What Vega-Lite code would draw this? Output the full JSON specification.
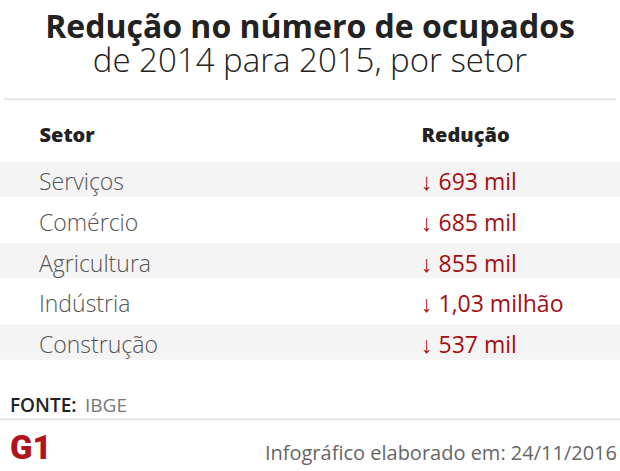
{
  "$schema": "https://vega.github.io/schema/vega-lite/v6.json",
  "width": 620,
  "height": 471,
  "autosize": {"type": "fit", "contains": "padding"},
  "padding": 0,
  "background": "#ffffff",
  "config": {"view": {"stroke": null}, "axis": {"grid": false}},
  "title": {
    "text": "Redução no número de ocupados",
    "subtitle": "de 2014 para 2015, por setor",
    "anchor": "middle",
    "frame": "group",
    "font": "Open Sans",
    "fontSize": 32,
    "fontWeight": 700,
    "color": "#222222",
    "subtitleFont": "Open Sans",
    "subtitleFontSize": 33,
    "subtitleFontWeight": 300,
    "subtitleColor": "#222222",
    "subtitlePadding": 1,
    "offset": -80
  },
  "datasets": {
    "setores": [
      {"linha": 1, "setor": "Serviços", "reducao": "↓ 693 mil", "reducao_mil": 693},
      {"linha": 2, "setor": "Comércio", "reducao": "↓ 685 mil", "reducao_mil": 685},
      {"linha": 3, "setor": "Agricultura", "reducao": "↓ 855 mil", "reducao_mil": 855},
      {"linha": 4, "setor": "Indústria", "reducao": "↓ 1,03 milhão", "reducao_mil": 1030},
      {"linha": 5, "setor": "Construção", "reducao": "↓ 537 mil", "reducao_mil": 537}
    ],
    "rodape": [
      {"fonte_rotulo": "FONTE:", "fonte": "IBGE", "logo": "G1", "credito": "Infográfico elaborado em: 24/11/2016"}
    ],
    "divisoria": [{"divisoria": "linha"}]
  },
  "layer": [
    {
      "data": {"name": "setores"},
      "layer": [
        {
          "transform": [{"filter": "datum.linha % 2 == 1"}],
          "mark": {"type": "tick", "orient": "horizontal", "thickness": 35, "size": 620, "color": "#f4f4f4", "opacity": 1},
          "encoding": {
            "y": {"field": "linha", "type": "quantitative", "axis": null,
                  "scale": {"domain": [-3.3975, 8.1608], "reverse": true, "nice": false, "zero": false}}
          }
        },
        {
          "mark": {"type": "text", "align": "left", "baseline": "alphabetic", "dy": 11,
                   "font": "Open Sans", "fontSize": 23, "fontWeight": 300, "color": "#555555"},
          "encoding": {
            "x": {"datum": "Setor", "type": "nominal",
                  "scale": {"type": "point", "domain": ["Setor", "Redução"], "range": [39, 421], "padding": 0},
                  "axis": {"orient": "top", "title": null, "domain": false, "ticks": false, "tickSize": 0,
                           "labelPadding": 0, "offset": -141.7, "labelAngle": 0, "labelAlign": "left", "labelBaseline": "alphabetic",
                           "labelFont": "Open Sans", "labelFontSize": 20, "labelFontWeight": 800,
                           "labelColor": "#222222", "labelOverlap": false, "labelBound": false, "labelFlush": false}},
            "y": {"field": "linha", "type": "quantitative", "axis": null,
                  "scale": {"domain": [-3.3975, 8.1608], "reverse": true, "nice": false, "zero": false}},
            "text": {"field": "setor"}
          }
        },
        {
          "mark": {"type": "text", "align": "left", "baseline": "alphabetic", "dy": 11,
                   "font": "Open Sans", "fontSize": 23, "fontWeight": 400, "color": "#a50d10"},
          "encoding": {
            "x": {"datum": "Redução", "type": "nominal"},
            "y": {"field": "linha", "type": "quantitative", "axis": null,
                  "scale": {"domain": [-3.3975, 8.1608], "reverse": true, "nice": false, "zero": false}},
            "text": {"field": "reducao"}
          }
        }
      ]
    },
    {
      "data": {"name": "divisoria"},
      "mark": {"type": "tick", "orient": "horizontal", "thickness": 2, "size": 612, "color": "#e6e6e6", "opacity": 1},
      "encoding": {
        "y": {"datum": -0.9607, "type": "quantitative", "axis": null,
              "scale": {"domain": [-3.3975, 8.1608], "reverse": true, "nice": false, "zero": false}}
      }
    },
    {
      "data": {"name": "divisoria"},
      "mark": {"type": "tick", "orient": "horizontal", "thickness": 2, "size": 620, "color": "#e6e6e6", "opacity": 1},
      "encoding": {
        "y": {"datum": 6.8921, "type": "quantitative", "axis": null,
              "scale": {"domain": [-3.3975, 8.1608], "reverse": true, "nice": false, "zero": false}}
      }
    },
    {
      "data": {"name": "rodape"},
      "layer": [
        {
          "mark": {"type": "text", "align": "left", "baseline": "alphabetic",
                   "font": "Open Sans", "fontSize": 19, "fontWeight": 600, "color": "#222222"},
          "encoding": {
            "x": {"datum": "esquerda", "type": "nominal", "axis": null,
                  "scale": {"type": "point", "domain": ["esquerda", "direita"], "range": [10, 617], "padding": 0}},
            "y": {"datum": 6.7056, "type": "quantitative", "axis": null,
                  "scale": {"domain": [-3.3975, 8.1608], "reverse": true, "nice": false, "zero": false}},
            "text": {"field": "fonte_rotulo"}
          }
        },
        {
          "mark": {"type": "text", "align": "left", "baseline": "alphabetic", "dx": 75,
                   "font": "Open Sans", "fontSize": 19, "fontWeight": 400, "color": "#777777"},
          "encoding": {
            "x": {"datum": "esquerda", "type": "nominal"},
            "y": {"datum": 6.7056, "type": "quantitative"},
            "text": {"field": "fonte"}
          }
        },
        {
          "mark": {"type": "text", "align": "left", "baseline": "alphabetic",
                   "font": "Roboto", "fontSize": 33, "fontWeight": 900, "color": "#b0131a"},
          "encoding": {
            "x": {"datum": "esquerda", "type": "nominal"},
            "y": {"datum": 7.8663, "type": "quantitative"},
            "text": {"field": "logo"}
          }
        },
        {
          "mark": {"type": "text", "align": "right", "baseline": "alphabetic",
                   "font": "Open Sans", "fontSize": 20, "fontWeight": 400, "color": "#666666"},
          "encoding": {
            "x": {"datum": "direita", "type": "nominal"},
            "y": {"datum": 7.8786, "type": "quantitative"},
            "text": {"field": "credito"}
          }
        }
      ]
    }
  ],
  "resolve": {"scale": {"x": "independent"}, "axis": {"x": "independent"}}
}
